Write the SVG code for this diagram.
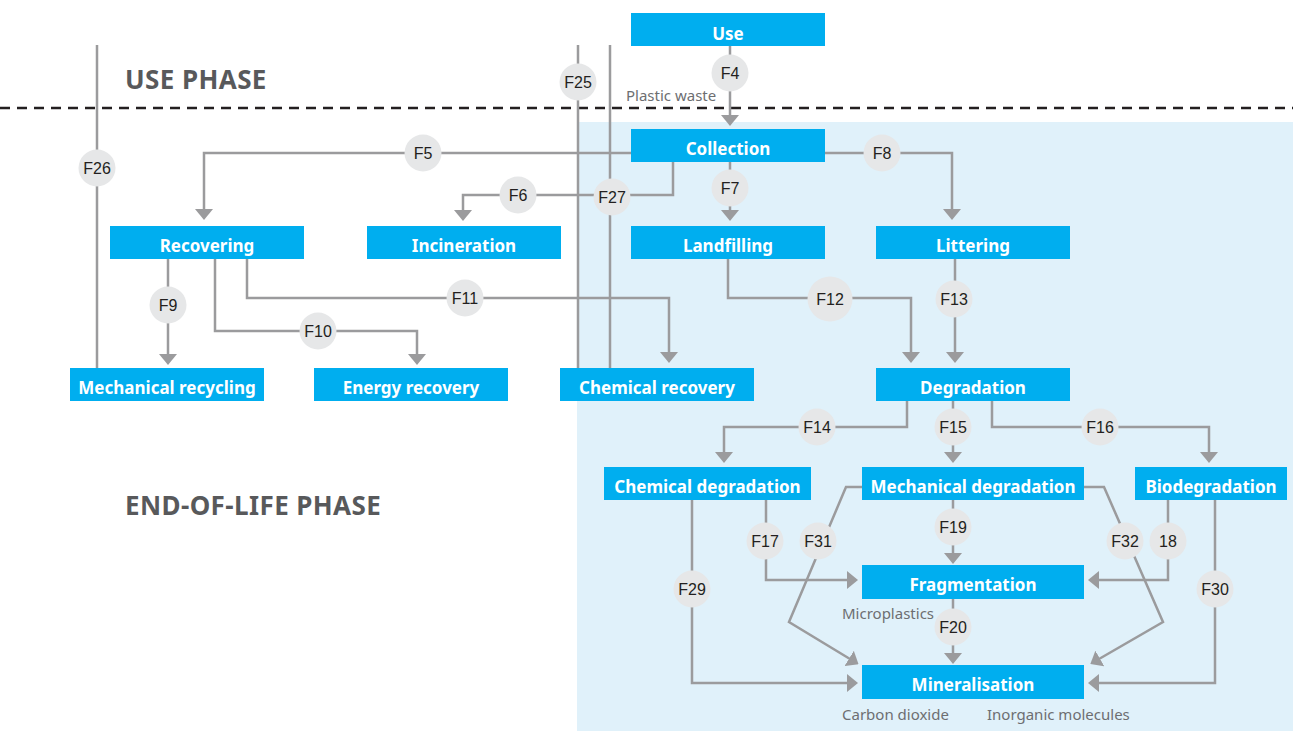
<svg xmlns="http://www.w3.org/2000/svg" width="1293" height="731" viewBox="0 0 1293 731">
<defs>
<style>
.node rect{fill:#00AEEF}
.node text{fill:#fff;font-family:"Noto Sans","Open Sans",sans-serif;font-weight:bold;font-size:17px;text-anchor:middle}
.c circle{fill:#E6E7E8}
.c text{fill:#231F20;font-family:"Liberation Sans",Arial,sans-serif;font-size:16px;text-anchor:middle}
.ln{fill:none;stroke:#9B9B9D;stroke-width:2.5}
.ar{marker-end:url(#ah)}
.phase{fill:#58595B;font-family:"Noto Sans","Open Sans",sans-serif;font-weight:bold;font-size:26px;letter-spacing:0.4px}
.lbl{fill:#6D6E71;font-family:"Noto Sans","Open Sans",sans-serif;font-size:15px}
</style>
<marker id="ah" viewBox="0 0 11 18" refX="1" refY="9" markerWidth="11" markerHeight="18" markerUnits="userSpaceOnUse" orient="auto">
<path d="M0,0 L11,9 L0,18 z" fill="#9B9B9D"/>
</marker>
</defs>
<rect x="577" y="122" width="716" height="609" fill="#E0F1FA"/>
<line x1="0" y1="108" x2="1293" y2="108" stroke="#231F20" stroke-width="2.5" stroke-dasharray="10,7"/>
<text class="phase" x="125" y="89">USE PHASE</text>
<text class="phase" x="125" y="515">END-OF-LIFE PHASE</text>
<text class="lbl" x="626" y="101">Plastic waste</text>
<text class="lbl" x="842" y="619">Microplastics</text>
<text class="lbl" x="842" y="720">Carbon dioxide</text>
<text class="lbl" x="987" y="720">Inorganic molecules</text>

<g id="connectors">
<path class="ln ar" d="M730,46 V116"/>
<path class="ln" d="M97,45 V368"/>
<path class="ln" d="M578,45 V368"/>
<path class="ln" d="M610,45 V368"/>
<path class="ln ar" d="M631,153 H204 V210"/>
<path class="ln ar" d="M673,162 V195 H463 V211"/>
<path class="ln ar" d="M730,162 V211"/>
<path class="ln ar" d="M825,153 H952 V210"/>
<path class="ln ar" d="M168,259 V355"/>
<path class="ln ar" d="M215,259 V331 H417 V355"/>
<path class="ln ar" d="M247,259 V298 H669 V353"/>
<path class="ln ar" d="M728,259 V298 H911 V353"/>
<path class="ln ar" d="M955,259 V353"/>
<path class="ln ar" d="M907,401 V427 H724 V453"/>
<path class="ln ar" d="M953,401 V453"/>
<path class="ln ar" d="M992,401 V427 H1209 V453"/>
<path class="ln ar" d="M766,500 V580 H848"/>
<path class="ln ar" d="M692,500 V683 H848"/>
<path class="ln ar" d="M862,487 H846 L789,622 L850,659"/>
<path class="ln ar" d="M1084,487 H1104 L1163,622 L1099,659"/>
<path class="ln ar" d="M953,500 V554"/>
<path class="ln ar" d="M1168,500 V580 H1098"/>
<path class="ln ar" d="M1215,500 V683 H1098"/>
<path class="ln ar" d="M953,599 V654"/>
</g>

<g id="use" class="node"><rect x="631" y="13" width="194" height="33"/><text x="728" y="40">Use</text></g>
<g id="collection" class="node"><rect x="631" y="129" width="194" height="33"/><text x="728" y="155">Collection</text></g>
<g id="recovering" class="node"><rect x="110" y="226" width="194" height="33"/><text x="207" y="252">Recovering</text></g>
<g id="incineration" class="node"><rect x="367" y="226" width="194" height="33"/><text x="464" y="252">Incineration</text></g>
<g id="landfilling" class="node"><rect x="631" y="226" width="194" height="33"/><text x="728" y="252">Landfilling</text></g>
<g id="littering" class="node"><rect x="876" y="226" width="194" height="33"/><text x="973" y="252">Littering</text></g>
<g id="mechanical-recycling" class="node"><rect x="70" y="368" width="194" height="33"/><text x="167" y="394">Mechanical recycling</text></g>
<g id="energy-recovery" class="node"><rect x="314" y="368" width="194" height="33"/><text x="411" y="394">Energy recovery</text></g>
<g id="chemical-recovery" class="node"><rect x="560" y="368" width="194" height="33"/><text x="657" y="394">Chemical recovery</text></g>
<g id="degradation" class="node"><rect x="876" y="368" width="194" height="33"/><text x="973" y="394">Degradation</text></g>
<g id="chemical-degradation" class="node"><rect x="604" y="467" width="207" height="33"/><text x="707.5" y="493">Chemical degradation</text></g>
<g id="mechanical-degradation" class="node"><rect x="862" y="467" width="222" height="33"/><text x="973" y="493">Mechanical degradation</text></g>
<g id="biodegradation" class="node"><rect x="1135" y="467" width="152" height="33"/><text x="1211" y="493">Biodegradation</text></g>
<g id="fragmentation" class="node"><rect x="862" y="565" width="222" height="34"/><text x="973" y="591">Fragmentation</text></g>
<g id="mineralisation" class="node"><rect x="862" y="665" width="222" height="34"/><text x="973" y="691">Mineralisation</text></g>

<g id="flows" class="c">
<g id="f4"><circle cx="730" cy="73" r="18.5"/><text x="730" y="79">F4</text></g>
<g id="f25"><circle cx="578" cy="82" r="18.5"/><text x="578" y="88">F25</text></g>
<g id="f26"><circle cx="97" cy="168" r="18.5"/><text x="97" y="174">F26</text></g>
<g id="f5"><circle cx="423" cy="153" r="18.5"/><text x="423" y="159">F5</text></g>
<g id="f8"><circle cx="882" cy="153" r="18.5"/><text x="882" y="159">F8</text></g>
<g id="f6"><circle cx="518" cy="195" r="18.5"/><text x="518" y="201">F6</text></g>
<g id="f27"><circle cx="612" cy="197" r="18.5"/><text x="612" y="203">F27</text></g>
<g id="f7"><circle cx="730" cy="188" r="18.5"/><text x="730" y="194">F7</text></g>
<g id="f9"><circle cx="168" cy="305" r="18.5"/><text x="168" y="311">F9</text></g>
<g id="f10"><circle cx="318" cy="331" r="18.5"/><text x="318" y="337">F10</text></g>
<g id="f11"><circle cx="465" cy="298" r="18.5"/><text x="465" y="304">F11</text></g>
<g id="f12"><circle cx="830" cy="299" r="22.5"/><text x="830" y="305">F12</text></g>
<g id="f13"><circle cx="954" cy="299" r="18.5"/><text x="954" y="305">F13</text></g>
<g id="f14"><circle cx="817" cy="427" r="18.5"/><text x="817" y="433">F14</text></g>
<g id="f15"><circle cx="953" cy="427" r="18.5"/><text x="953" y="433">F15</text></g>
<g id="f16"><circle cx="1100" cy="427" r="18.5"/><text x="1100" y="433">F16</text></g>
<g id="f17"><circle cx="765" cy="541" r="18.5"/><text x="765" y="547">F17</text></g>
<g id="f31"><circle cx="818" cy="541" r="18.5"/><text x="818" y="547">F31</text></g>
<g id="f19"><circle cx="953" cy="527" r="18.5"/><text x="953" y="533">F19</text></g>
<g id="f32"><circle cx="1125" cy="541" r="18.5"/><text x="1125" y="547">F32</text></g>
<g id="f18"><circle cx="1168" cy="541" r="18.5"/><text x="1168" y="547">18</text></g>
<g id="f29"><circle cx="692" cy="589" r="18.5"/><text x="692" y="595">F29</text></g>
<g id="f30"><circle cx="1215" cy="589" r="18.5"/><text x="1215" y="595">F30</text></g>
<g id="f20"><circle cx="953" cy="627" r="18.5"/><text x="953" y="633">F20</text></g>
</g>
</svg>
